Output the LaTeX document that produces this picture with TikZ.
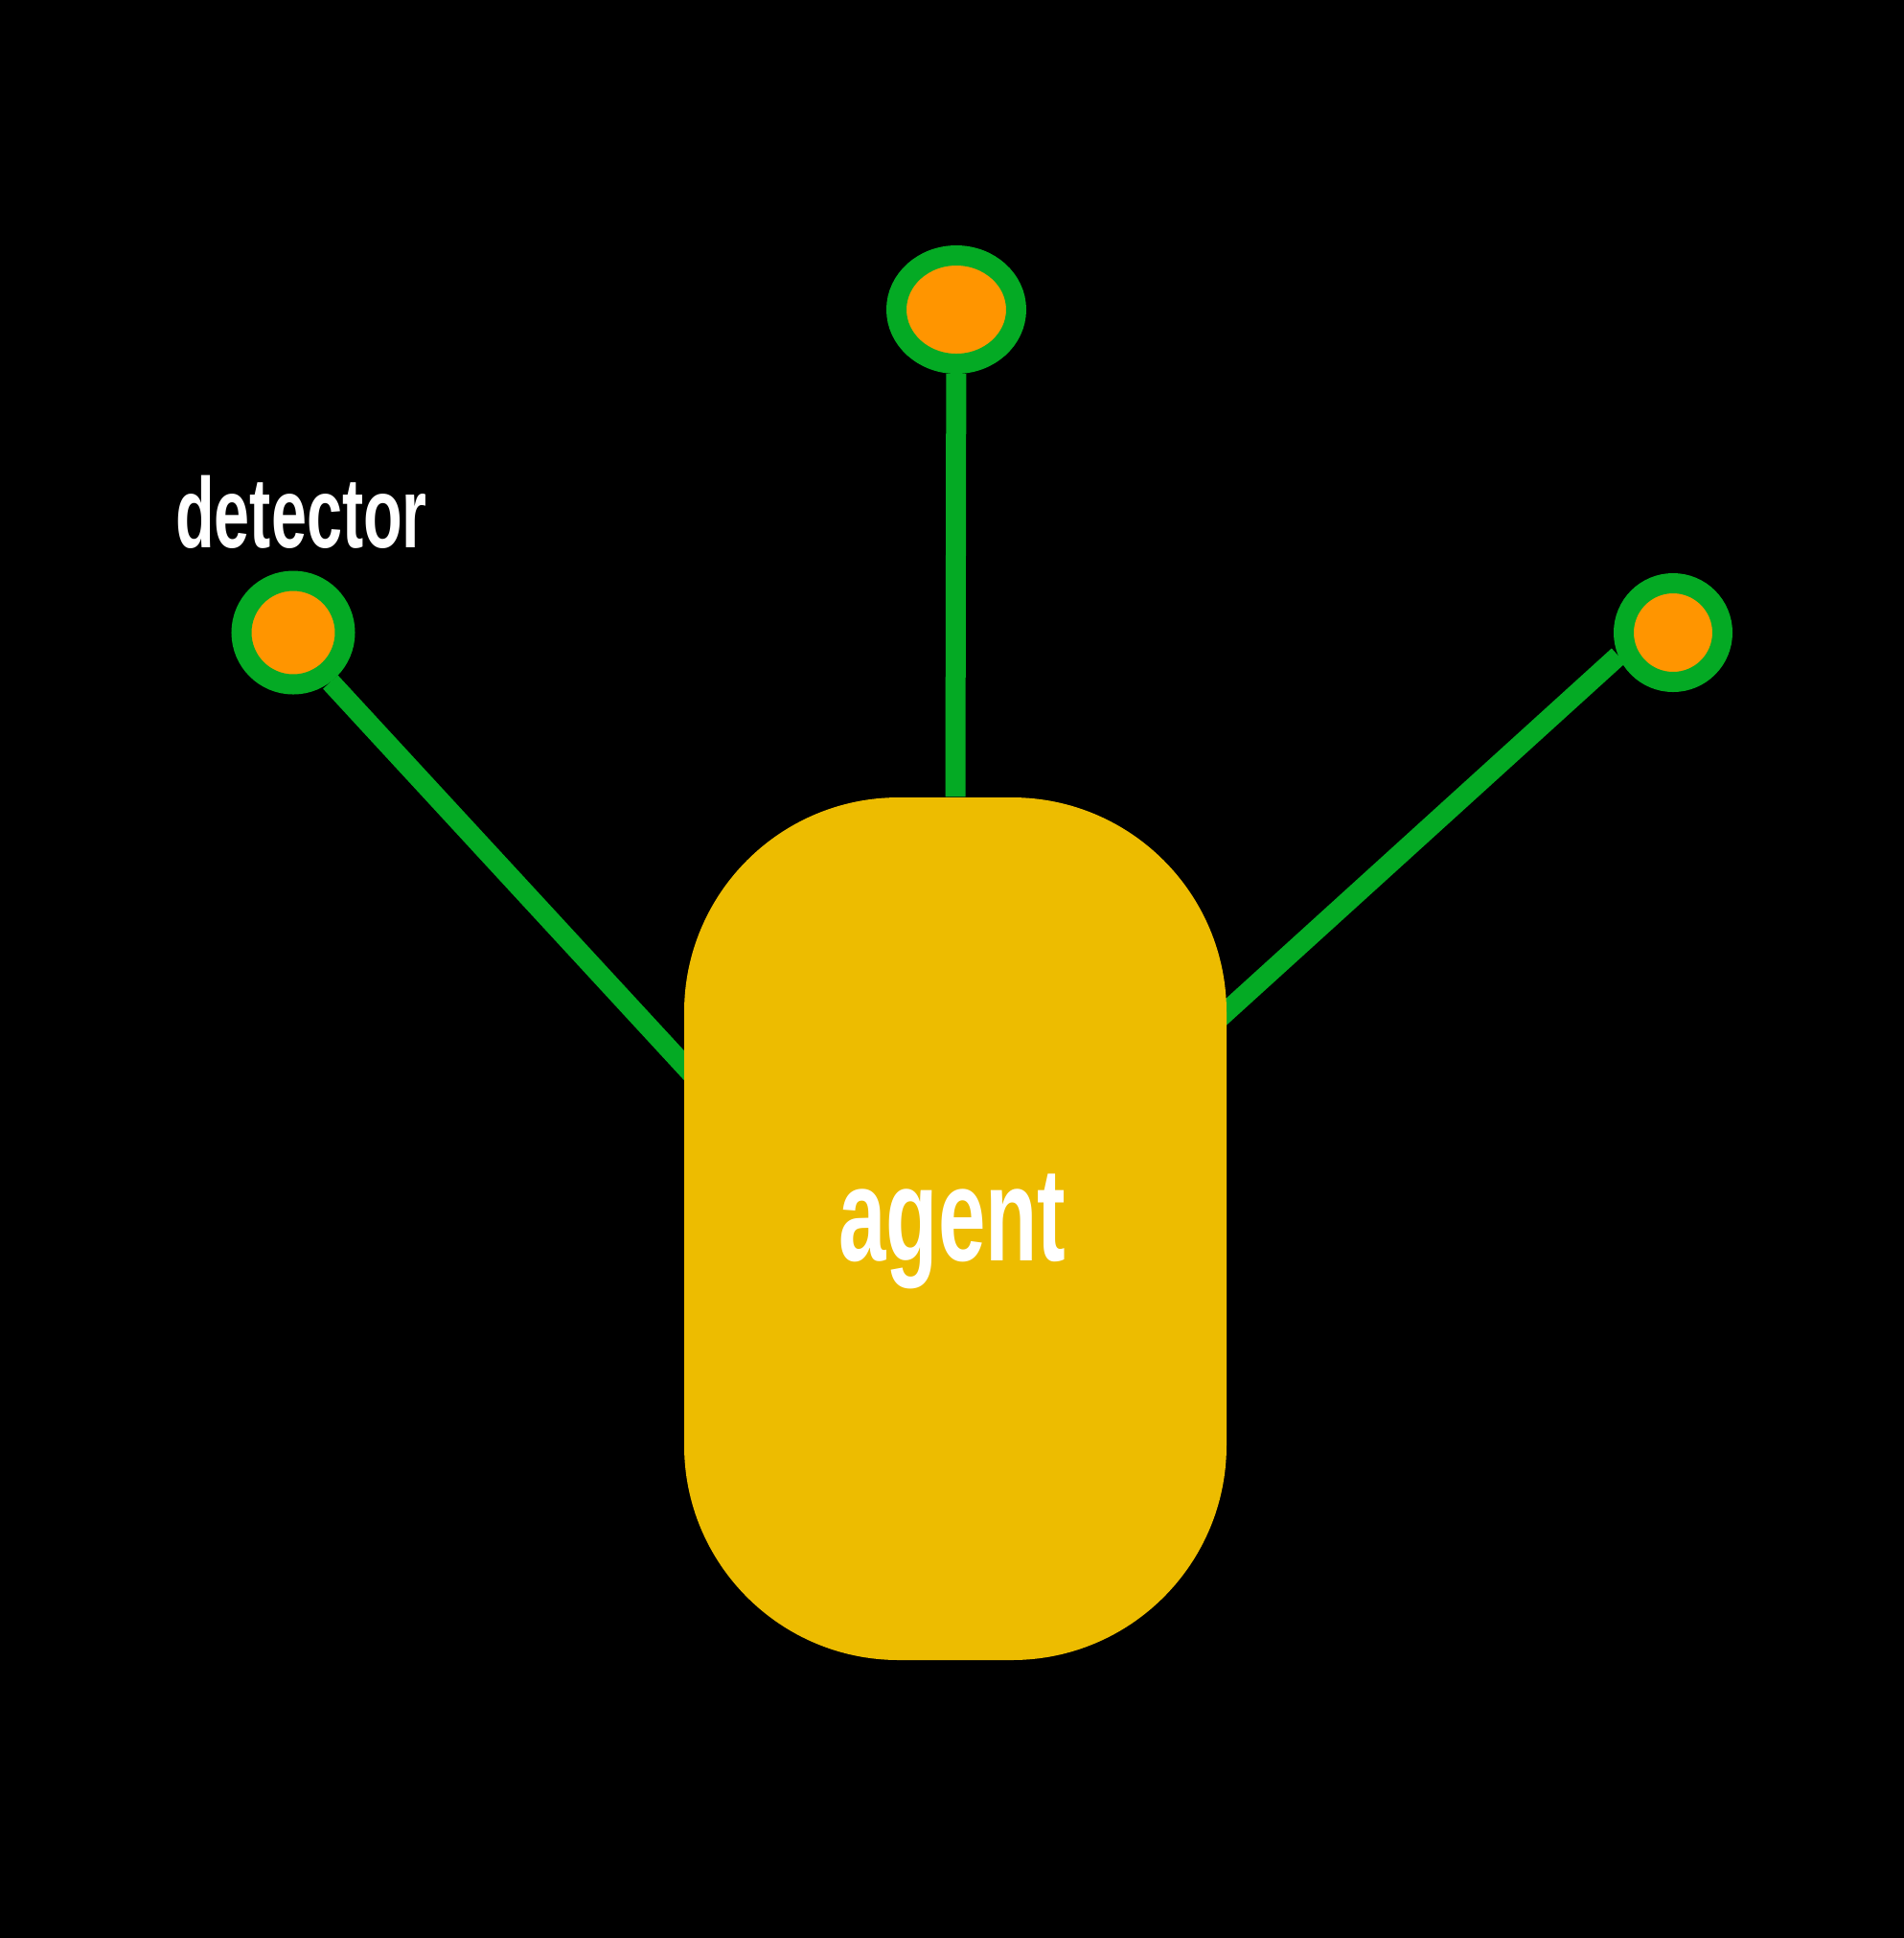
\documentclass[tikz,border=0pt]{standalone}
\usepackage{fontspec}
\usetikzlibrary{shapes.geometric,calc}
\newfontfamily\labelfont[FakeStretch=0.64]{Liberation Sans}
\definecolor{wiregreen}{RGB}{4,170,36}
\definecolor{detorange}{RGB}{255,149,0}
\definecolor{agentyellow}{RGB}{237,188,0}
\pgfdeclarelayer{wires}
\pgfsetlayers{wires,main}

\begin{document}
\begin{tikzpicture}
    \tikzstyle{det}=[circle, draw=wiregreen, line width=0.21cm, fill=detorange, inner sep=0pt]
    \tikzstyle{wire}=[draw=wiregreen, line width=0.21cm]
    \tikzstyle{lbl}=[text=white, inner sep=0pt, anchor=base]
    \useasboundingbox (0,0) rectangle (19.87,-20.22);
    \node[det, minimum size=1.08cm] (ldet) at (3.06,-6.60) {};
    \node[det, minimum size=1.03cm] (rdet) at (17.46,-6.60) {};
    \node[det, ellipse, minimum width=1.25cm, minimum height=1.13cm] (tdet) at (9.98,-3.23) {};
    \node[fill=agentyellow, rounded corners=2.24cm, minimum width=5.66cm, minimum height=9cm] (agent) at (9.97,-12.82) {};
    \node[lbl, font=\labelfont\bfseries\fontsize{29.6}{35}\selectfont] (detlbl) at (3.145,-5.71) {detector};
    \node[lbl, font=\labelfont\bfseries\fontsize{39.5}{47}\selectfont] (agentlbl) at ($(agent.center)+(-0.03,-0.33)$) {agent};
    \coordinate (lfoot) at (7.30,-11.29);
    \coordinate (rfoot) at (12.65,-10.69);
    \begin{pgfonlayer}{wires}
        \fill[black] (0,0) rectangle (19.87,-20.22);
        \draw[wire] (ldet.-53) -- (lfoot);
        \draw[wire] (rdet.203) -- (rfoot);
        \draw[wire] (tdet) -- (agent.north);
    \end{pgfonlayer}
\end{tikzpicture}
\end{document}
